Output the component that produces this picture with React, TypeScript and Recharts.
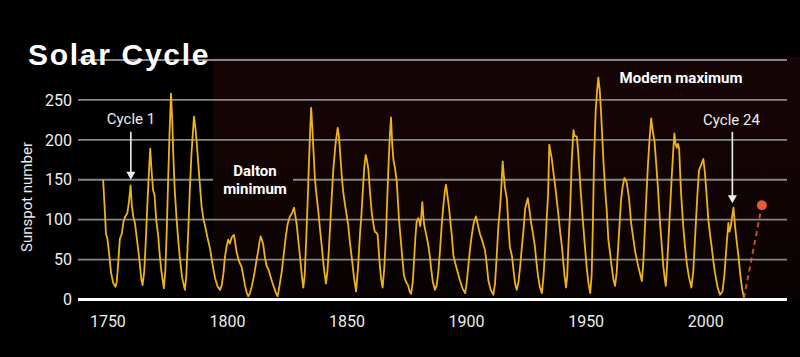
import { ComposedChart, Line, XAxis, YAxis, CartesianGrid, ReferenceLine } from 'recharts'

// sunspot number (13-month smoothed look): [year, value]
const CYCLE_0: [number, number][] = [
  [1748.0, 150], [1748.6, 118], [1749.2, 82], [1749.8, 76], [1750.5, 58], [1751.3, 34], [1752.2, 21], [1753.2, 16],
]
const CYCLE_1: [number, number][] = [
  [1753.7, 22], [1754.3, 45], [1755.0, 76], [1755.8, 82], [1756.5, 97], [1757.3, 104], [1758.1, 108], [1758.8, 122],
  [1759.5, 143], [1760.0, 118], [1760.6, 104], [1761.3, 96], [1762.0, 79], [1762.7, 62], [1763.4, 43], [1764.0, 25], [1764.5, 18],
]
const CYCLE_2: [number, number][] = [
  [1765.2, 35], [1765.8, 70], [1766.4, 112], [1767.0, 150], [1767.7, 189], [1768.3, 160], [1768.9, 137], [1769.5, 131],
  [1770.2, 100], [1771.0, 81], [1771.7, 55], [1772.4, 35], [1773.4, 14],
]
const CYCLE_3: [number, number][] = [
  [1774.0, 35], [1774.6, 85], [1775.2, 150], [1775.8, 210], [1776.4, 258], [1776.9, 225], [1777.3, 185], [1777.9, 140],
  [1778.7, 102], [1779.4, 75], [1780.1, 52], [1781.0, 28], [1782.2, 12],
]
const CYCLE_4: [number, number][] = [
  [1782.8, 30], [1783.6, 85], [1784.3, 140], [1785.0, 185], [1786.0, 229], [1786.6, 215], [1787.1, 198], [1787.8, 170],
  [1788.5, 143], [1789.2, 116], [1790.0, 100], [1790.6, 93], [1791.6, 78], [1792.7, 64], [1793.7, 45], [1794.8, 27],
  [1795.8, 17], [1796.9, 12],
]
const CYCLE_5: [number, number][] = [
  [1797.6, 18], [1798.3, 32], [1798.9, 52], [1799.6, 66], [1800.3, 75], [1801.0, 70], [1801.8, 78], [1802.7, 81],
  [1803.2, 72], [1803.8, 60], [1804.8, 48], [1805.9, 41], [1806.6, 30], [1807.3, 18], [1808.0, 9], [1808.7, 4],
]
const CYCLE_6: [number, number][] = [
  [1809.4, 8], [1810.0, 14], [1810.7, 24], [1811.4, 35], [1812.1, 48], [1812.8, 60], [1813.4, 72], [1813.9, 79],
  [1814.5, 74], [1815.0, 68], [1815.7, 52], [1816.4, 42], [1817.1, 38], [1817.8, 31], [1818.7, 22], [1819.6, 14],
  [1820.3, 8], [1821.0, 4],
]
const CYCLE_7: [number, number][] = [
  [1821.8, 18], [1822.7, 35], [1823.6, 58], [1824.4, 79], [1825.2, 95], [1826.1, 104], [1827.0, 108], [1827.8, 115],
  [1828.4, 105], [1829.0, 93], [1829.7, 72], [1830.4, 52], [1831.1, 30], [1831.7, 15],
]
const CYCLE_8: [number, number][] = [
  [1832.3, 30], [1833.0, 80], [1833.5, 120], [1834.0, 164], [1834.5, 205], [1835.0, 240], [1835.5, 215], [1836.0, 185],
  [1836.6, 150], [1837.1, 135], [1838.0, 110], [1838.7, 88], [1839.4, 68], [1840.3, 40], [1841.2, 20],
]
const CYCLE_9: [number, number][] = [
  [1841.8, 35], [1842.4, 62], [1842.9, 90], [1843.6, 128], [1844.3, 164], [1845.2, 195], [1846.1, 215], [1846.6, 205],
  [1847.1, 185], [1847.8, 155], [1848.4, 135], [1849.2, 118], [1850.5, 93], [1851.2, 72], [1852.0, 52], [1852.9, 28],
  [1853.8, 10],
]
const CYCLE_10: [number, number][] = [
  [1854.6, 40], [1855.4, 81], [1856.0, 105], [1856.5, 131], [1857.2, 165], [1857.8, 181], [1858.3, 175], [1858.9, 164],
  [1859.6, 135], [1860.3, 110], [1861.0, 95], [1861.6, 85], [1862.2, 84], [1862.8, 81], [1863.7, 43], [1864.3, 25],
  [1864.9, 15],
]
const CYCLE_11: [number, number][] = [
  [1865.6, 40], [1866.3, 81], [1866.8, 125], [1867.3, 164], [1867.9, 205], [1868.4, 228], [1868.9, 195], [1869.4, 175],
  [1870.1, 164], [1870.8, 148], [1871.7, 102], [1872.9, 60], [1873.8, 30], [1874.7, 22], [1875.5, 18], [1876.2, 10],
  [1876.8, 7],
]
const CYCLE_12: [number, number][] = [
  [1877.5, 22], [1878.1, 52], [1878.6, 78], [1879.1, 97], [1879.8, 102], [1880.3, 98], [1880.6, 92], [1881.0, 102],
  [1881.5, 122], [1881.9, 105], [1882.3, 93], [1883.2, 80], [1884.0, 68], [1884.6, 55], [1885.2, 38], [1885.9, 22],
  [1886.8, 12],
]
const CYCLE_13: [number, number][] = [
  [1887.5, 18], [1888.2, 35], [1888.9, 62], [1889.6, 93], [1890.3, 118], [1890.9, 135], [1891.4, 144], [1892.0, 130],
  [1892.7, 114], [1893.3, 95], [1893.8, 81], [1894.5, 55], [1895.2, 46], [1896.2, 35], [1897.2, 24], [1898.3, 14],
  [1899.4, 8],
]
const CYCLE_14: [number, number][] = [
  [1900.0, 20], [1900.7, 41], [1901.4, 62], [1902.1, 79], [1903.0, 96], [1903.9, 104], [1904.4, 98], [1904.9, 91],
  [1905.6, 82], [1906.4, 75], [1907.1, 68], [1907.7, 62], [1908.5, 42], [1909.1, 24], [1910.1, 12], [1911.2, 6],
]
const CYCLE_15: [number, number][] = [
  [1911.9, 20], [1912.6, 54], [1913.3, 92], [1913.9, 112], [1914.4, 133], [1915.1, 173], [1915.5, 158], [1916.0, 141],
  [1916.9, 125], [1917.4, 96], [1918.1, 66], [1919.0, 54], [1919.7, 35], [1920.3, 20], [1921.0, 12],
]
const CYCLE_16: [number, number][] = [
  [1921.7, 22], [1922.4, 41], [1923.1, 65], [1923.8, 87], [1924.5, 114], [1925.0, 120], [1925.6, 127], [1926.3, 112],
  [1927.0, 96], [1927.8, 82], [1928.6, 66], [1929.1, 50], [1929.9, 29], [1930.7, 15], [1931.5, 8],
]
const CYCLE_17: [number, number][] = [
  [1932.2, 30], [1932.9, 66], [1933.5, 100], [1934.1, 133], [1934.6, 194], [1935.1, 185], [1935.6, 177], [1936.3, 160],
  [1937.1, 141], [1938.2, 112], [1939.2, 83], [1939.9, 66], [1940.5, 45], [1941.0, 29], [1941.6, 15],
]
const CYCLE_18: [number, number][] = [
  [1942.1, 30], [1942.5, 62], [1943.3, 112], [1944.0, 175], [1944.7, 212], [1945.2, 205], [1946.1, 204], [1946.6, 187],
  [1947.2, 160], [1947.8, 133], [1948.6, 100], [1949.4, 70], [1950.2, 41], [1951.0, 20], [1951.7, 8],
]
const CYCLE_19: [number, number][] = [
  [1952.3, 30], [1952.8, 91], [1953.3, 175], [1954.0, 237], [1954.6, 262], [1955.1, 278], [1955.7, 262], [1956.2, 237],
  [1957.2, 175], [1957.9, 140], [1958.6, 112], [1959.3, 75], [1960.0, 58], [1960.7, 41], [1961.4, 25], [1962.1, 17],
]
const CYCLE_20: [number, number][] = [
  [1962.8, 35], [1963.5, 71], [1964.1, 100], [1964.6, 125], [1965.3, 142], [1966.0, 152], [1966.5, 150], [1967.0, 146],
  [1968.0, 125], [1968.8, 96], [1969.8, 75], [1970.5, 60], [1971.2, 50], [1971.9, 40], [1972.5, 33], [1973.3, 23],
]
const CYCLE_21: [number, number][] = [
  [1973.9, 45], [1974.6, 91], [1975.2, 130], [1975.8, 166], [1976.5, 200], [1977.2, 227], [1977.8, 212], [1978.6, 198],
  [1979.3, 170], [1980.0, 141], [1980.5, 115], [1981.0, 92], [1981.7, 65], [1982.3, 41], [1982.8, 28], [1983.3, 17],
]
const CYCLE_22: [number, number][] = [
  [1983.9, 45], [1984.7, 91], [1985.2, 120], [1985.8, 154], [1986.4, 185], [1986.9, 208], [1987.4, 195], [1987.9, 190],
  [1988.4, 195], [1988.9, 189], [1989.3, 160], [1989.7, 133], [1990.6, 92], [1991.3, 68], [1992.1, 45], [1993.0, 28],
  [1994.0, 15],
]
const CYCLE_23: [number, number][] = [
  [1994.8, 35], [1995.8, 91], [1996.5, 130], [1997.2, 162], [1997.9, 167], [1998.4, 171], [1999.0, 176], [1999.7, 158],
  [2000.4, 130], [2001.1, 100], [2001.8, 82], [2002.5, 66], [2003.2, 48], [2003.9, 33], [2005.0, 15], [2006.0, 6],
]
const CYCLE_24: [number, number][] = [
  [2007.0, 10], [2007.8, 30], [2008.8, 71], [2009.5, 96], [2009.9, 85], [2010.5, 91], [2011.1, 105], [2011.6, 115],
  [2012.3, 91], [2013.0, 72], [2013.7, 54], [2014.5, 30], [2015.3, 12], [2016.0, 2],
]
// predicted next maximum (dashed)
const FORECAST: [number, number][] = [[2016.0, 2], [2023.5, 118]]

const X_TICKS = [1750, 1800, 1850, 1900, 1950, 2000]
const Y_TICKS = [0, 50, 100, 150, 200, 250]

const CYCLES = [
  CYCLE_0, CYCLE_1, CYCLE_2, CYCLE_3, CYCLE_4, CYCLE_5, CYCLE_6, CYCLE_7, CYCLE_8, CYCLE_9, CYCLE_10, CYCLE_11, CYCLE_12,
  CYCLE_13, CYCLE_14, CYCLE_15, CYCLE_16, CYCLE_17, CYCLE_18, CYCLE_19, CYCLE_20, CYCLE_21, CYCLE_22, CYCLE_23, CYCLE_24,
]

const sunspots = CYCLES.flat().map(([year, ssn]) => ({ year, ssn }))
const forecast = FORECAST.map(([year, ssn]) => ({ year, ssn }))

const GOLD = '#eeb21a'
const RED = '#e65a35'
const TEXT = '#ececec'

function Arrow(props: any) {
  const { x1, y1, x2, y2 } = props
  return (
    <g>
      <line x1={x1} y1={y1} x2={x2} y2={y2 - 6} stroke="#f0f0f0" strokeWidth={1.6} />
      <polygon points={`${x2 - 4.5},${y2 - 8} ${x2 + 4.5},${y2 - 8} ${x2},${y2}`} fill="#f0f0f0" />
    </g>
  )
}

function EndDot(props: any) {
  const { cx, cy, index } = props
  if (index !== forecast.length - 1) return <g key={index} />
  return <circle key={index} cx={cx} cy={cy} r={5} fill={RED} />
}

// same gradient in both svg layers so the label patch blends in
function PanelGradient({ id }: { id: string }) {
  return (
    <defs>
      <linearGradient id={id} gradientUnits="userSpaceOnUse" x1={0} y1={57} x2={0} y2={302}>
        <stop offset="0%" stopColor="#170506" />
        <stop offset="60%" stopColor="#110404" />
        <stop offset="100%" stopColor="#060101" />
      </linearGradient>
    </defs>
  )
}

export default function App() {
  return (
    <div style={{ position: 'absolute', left: 0, top: 0, width: 800, height: 357, background: '#000', overflow: 'hidden', fontFamily: 'Roboto, sans-serif' }}>
      {/* dark maroon panel behind the plot */}
      <svg width={800} height={357} style={{ position: 'absolute', left: 0, top: 0 }}>
        <PanelGradient id="panelBg" />
        <rect x={213} y={57} width={587} height={245} fill="url(#panelBg)" />
      </svg>

      <div style={{ position: 'absolute', left: 0, top: 0 }}>
        <ComposedChart width={800} height={357} margin={{ top: 60, right: 13, bottom: 0, left: 0 }}>
          <CartesianGrid horizontal vertical={false} stroke="#868686" strokeWidth={1.8} />
          <XAxis
            type="number"
            dataKey="year"
            domain={[1737.5, 2034]}
            ticks={X_TICKS}
            axisLine={false}
            tickLine={false}
            tickSize={0}
            tickMargin={16}
            height={57.5}
            tick={{ fill: TEXT, fontSize: 16 }}
            allowDuplicatedCategory={false}
          />
          <YAxis
            type="number"
            domain={[0, 300]}
            ticks={Y_TICKS}
            axisLine={false}
            tickLine={false}
            tickSize={0}
            tickMargin={6}
            width={78}
            tick={{ fill: TEXT, fontSize: 16 }}
          />
          <Line
            data={sunspots}
            dataKey="ssn"
            type="linear"
            stroke={GOLD}
            strokeWidth={1.8}
            dot={false}
            strokeLinejoin="round"
            isAnimationActive={false}
          />
          <Line
            data={forecast}
            dataKey="ssn"
            type="linear"
            stroke={RED}
            strokeWidth={2}
            strokeDasharray="5 4"
            strokeOpacity={0.85}
            dot={<EndDot />}
            isAnimationActive={false}
          />
          <ReferenceLine y={0} stroke="#ffffff" strokeWidth={3} />
          <ReferenceLine segment={[{ x: 1759.6, y: 210 }, { x: 1759.6, y: 150 }]} shape={<Arrow />} />
          <ReferenceLine segment={[{ x: 2011.15, y: 210 }, { x: 2011.15, y: 120.5 }]} shape={<Arrow />} />
        </ComposedChart>
      </div>

      <svg width={800} height={357} style={{ position: 'absolute', left: 0, top: 0, pointerEvents: 'none' }}>
        <PanelGradient id="patchBg" />
        <text x={28} y={65} fill="#ffffff" fontSize={30} fontWeight={700} letterSpacing={1.7} fontFamily="'Liberation Sans', Arial, sans-serif">Solar Cycle</text>
        <text transform="translate(32,197) rotate(-90)" textAnchor="middle" fill={TEXT} fontSize={15}>Sunspot number</text>
        <rect x={213} y={160} width={80} height={40} fill="url(#patchBg)" />
        <text x={255} y={176} textAnchor="middle" fill="#ffffff" fontSize={15} fontWeight={700}>Dalton</text>
        <text x={255} y={193.5} textAnchor="middle" fill="#ffffff" fontSize={15} fontWeight={700}>minimum</text>
        <text x={681} y={82.7} textAnchor="middle" fill="#ffffff" fontSize={15} fontWeight={700}>Modern maximum</text>
        <text x={131} y={124} textAnchor="middle" fill={TEXT} fontSize={15}>Cycle 1</text>
        <text x={731.5} y={124.5} textAnchor="middle" fill={TEXT} fontSize={15}>Cycle 24</text>
      </svg>
    </div>
  )
}
